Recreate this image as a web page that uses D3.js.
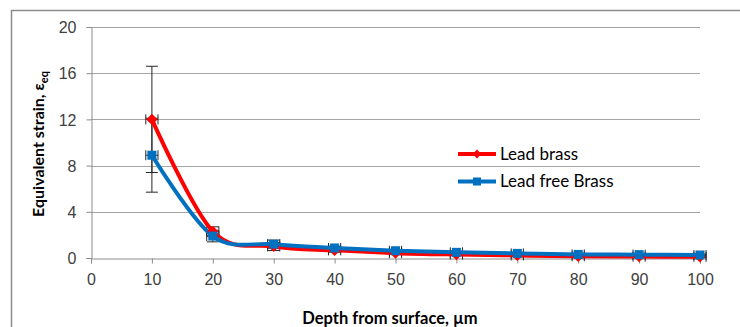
<!DOCTYPE html>
<html lang="en">
<head>
  <meta charset="UTF-8" />
  <title>Equivalent strain vs depth</title>
  <script src="https://d3js.org/d3.v7.min.js"></script>
  <style>
    body { margin: 0; background: #fff; }
    svg { display: block; font-family: Lato, "Open Sans", sans-serif; }
  </style>
</head>
<body>
  <div id="chart"></div>

  <script>
    const depths = [10, 20, 30, 40, 50, 60, 70, 80, 90, 100];
    const leadBrass = [12.0, 2.3, 1.0, 0.66, 0.42, 0.3, 0.22, 0.15, 0.12, 0.1];
    const leadBrassErr = [4.6, 0.4, 0.35, 0.15, 0.1, 0.08, 0.08, 0.08, 0.08, 0.08];
    const leadFree = [8.9, 1.9, 1.2, 0.87, 0.63, 0.49, 0.4, 0.31, 0.29, 0.26];
    const leadFreeErr = [3.2, 0.5, 0.35, 0.15, 0.1, 0.08, 0.08, 0.08, 0.08, 0.08];
    const depthErr = 1;
    const xTicks = [0, 10, 20, 30, 40, 50, 60, 70, 80, 90, 100];
    const yTicks = [0, 4, 8, 12, 16, 20];

    const series = [
      {name: "Lead brass", values: leadBrass, err: leadBrassErr, color: "#ff0000", marker: "diamond"},
      {name: "Lead free Brass", values: leadFree, err: leadFreeErr, color: "#0070c0", marker: "square"}
    ];

    const W = 740, H = 327;
    const svg = d3.select("#chart").append("svg")
      .attr("width", W).attr("height", H);

    // outer chart border
    svg.append("rect")
      .attr("x", 11.5).attr("y", 10.5)
      .attr("width", 760).attr("height", 340)
      .attr("fill", "none").attr("stroke", "#8c8c8c").attr("stroke-width", 1.5);

    const x = d3.scaleLinear().domain([0, 100]).range([91, 700]);
    const y = d3.scaleLinear().domain([0, 20]).range([258, 27]);

    // gridlines
    svg.append("g").selectAll("line")
      .data(yTicks.filter(d => d > 0))
      .enter().append("line")
      .attr("x1", x(0)).attr("x2", x(100))
      .attr("y1", d => Math.round(y(d)) + 0.5).attr("y2", d => Math.round(y(d)) + 0.5)
      .attr("stroke", "#a6a6a6").attr("stroke-width", 1);

    // axes
    const yAxis = svg.append("g")
      .attr("transform", `translate(${x(0) + 0.5},0)`)
      .call(d3.axisLeft(y).tickValues(yTicks).tickSize(5).tickPadding(10));
    const xAxis = svg.append("g")
      .attr("transform", `translate(0,${Math.round(y(0)) + 0.5})`)
      .call(d3.axisBottom(x).tickValues(xTicks).tickSize(5).tickPadding(10));

    [xAxis, yAxis].forEach(g => {
      g.select(".domain").attr("stroke", "#8c8c8c");
      g.selectAll(".tick line").attr("stroke", "#8c8c8c");
      g.selectAll(".tick text")
        .attr("fill", "#404040")
        .style("font-size", "16px");
    });
    yAxis.selectAll(".tick text").attr("dy", "0.35em");

    // axis titles
    svg.append("text")
      .attr("x", 390).attr("y", 324)
      .attr("text-anchor", "middle")
      .style("font-size", "16.5px").style("font-weight", "bold")
      .attr("fill", "#000")
      .text("Depth from surface, µm");

    const yTitle = svg.append("text")
      .attr("transform", "translate(44,144) rotate(-90)")
      .attr("text-anchor", "middle")
      .style("font-size", "16px").style("font-weight", "bold")
      .attr("fill", "#000");
    yTitle.append("tspan").text("Equivalent strain, ε");
    yTitle.append("tspan").attr("dy", 4).style("font-size", "11px").text("eq");

    // error bars
    const errG = svg.append("g").attr("stroke", "#262626").attr("stroke-width", 1).attr("fill", "none");
    series.forEach(s => {
      depths.forEach((d, i) => {
        const cx = x(d), cy = y(s.values[i]);
        const top = y(s.values[i] + s.err[i]), bot = y(s.values[i] - s.err[i]);
        errG.append("line").attr("x1", cx).attr("x2", cx).attr("y1", top).attr("y2", bot);
        errG.append("line").attr("x1", cx - 6).attr("x2", cx + 6).attr("y1", top).attr("y2", top);
        errG.append("line").attr("x1", cx - 6).attr("x2", cx + 6).attr("y1", bot).attr("y2", bot);
        const l = x(d - depthErr), r = x(d + depthErr);
        errG.append("line").attr("x1", l).attr("x2", r).attr("y1", cy).attr("y2", cy);
        errG.append("line").attr("x1", l).attr("x2", l).attr("y1", cy - 5).attr("y2", cy + 5);
        errG.append("line").attr("x1", r).attr("x2", r).attr("y1", cy - 5).attr("y2", cy + 5);
      });
    });

    // lines
    const line = d3.line()
      .x(d => x(d[0]))
      .y(d => y(d[1]))
      .curve(d3.curveCardinal.tension(0));

    series.forEach(s => {
      const pts = depths.map((d, i) => [d, s.values[i]]);
      svg.append("path")
        .datum(pts)
        .attr("fill", "none")
        .attr("stroke", s.color)
        .attr("stroke-width", 4)
        .attr("stroke-linejoin", "round")
        .attr("d", line);
    });

    function drawMarker(g, type, cx, cy, color, size) {
      if (type === "square") {
        g.append("rect")
          .attr("x", cx - size / 2).attr("y", cy - size / 2)
          .attr("width", size).attr("height", size)
          .attr("fill", color);
      } else {
        g.append("path")
          .attr("d", d3.symbol(d3.symbolDiamond2, size * size)())
          .attr("transform", `translate(${cx},${cy})`)
          .attr("fill", color);
      }
    }

    const markG = svg.append("g");
    series.forEach(s => {
      depths.forEach((d, i) => {
        drawMarker(markG, s.marker, x(d), y(s.values[i]), s.color, 9);
      });
    });

    // legend
    const legend = svg.append("g");
    series.forEach((s, i) => {
      const ly = 154 + i * 27.5;
      legend.append("line")
        .attr("x1", 458).attr("x2", 496)
        .attr("y1", ly).attr("y2", ly)
        .attr("stroke", s.color).attr("stroke-width", 4);
      drawMarker(legend, s.marker, 477, ly, s.color, s.marker === "square" ? 8 : 7);
      legend.append("text")
        .attr("x", 500).attr("y", ly)
        .attr("dy", "0.35em")
        .style("font-size", "17px")
        .attr("fill", "#000")
        .text(s.name);
    });
  </script>
</body>
</html>
